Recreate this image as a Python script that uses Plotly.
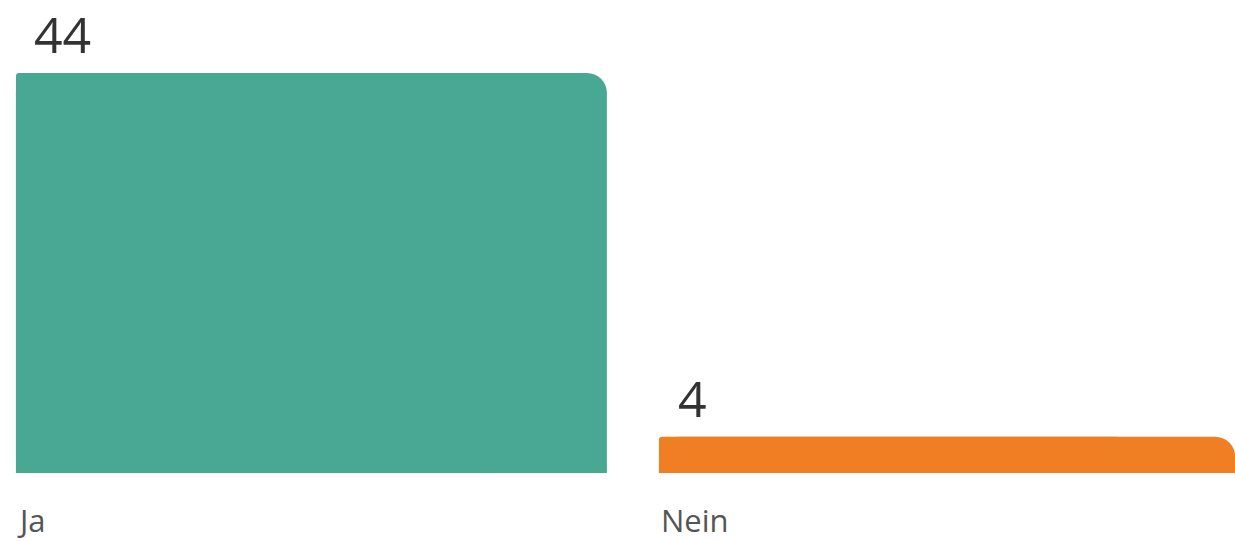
import plotly.graph_objects as go

categories = ["Ja", "Nein"]
values = [44, 4]
colors = ["#48A893", "#F07F23"]

bar_widths = [0.919, 0.896]
bar_off = -0.4596
fig = go.Figure()
# main bar with rounded top corners (right corner shows rounding)
fig.add_trace(go.Bar(x=categories, y=values, marker=dict(color=colors, line=dict(width=0)),
                     width=bar_widths, offset=bar_off, hoverinfo="skip", showlegend=False))
# overlay covering the left part to keep top-left corner nearly square
fig.add_trace(go.Bar(x=categories, y=values, marker=dict(color=colors, line=dict(width=0), cornerradius=3),
                     width=[w * 0.8 for w in bar_widths], offset=bar_off,
                     hoverinfo="skip", showlegend=False))

for c, v in zip(categories, values):
    fig.add_annotation(x=c, y=v, text=str(v), showarrow=False, xanchor="left", yanchor="bottom",
                       xshift=-278, yshift=4, borderpad=0,
                       font=dict(family="Open Sans", size=50, color="#333333"))
    fig.add_annotation(x=c, y=0, text=c, showarrow=False, xanchor="left", yanchor="top",
                       xshift=-296, yshift=-24, font=dict(family="Open Sans", size=31, color="#555555"))

fig.update_layout(
    width=1235, height=541,
    margin=dict(l=0, r=0, t=0, b=68),
    barmode="overlay", barcornerradius=20,
    plot_bgcolor="white", paper_bgcolor="white",
    xaxis=dict(type="category", range=[-0.4844, 1.4362], visible=False),
    yaxis=dict(range=[0, 52.03], visible=False),
)
fig.write_html("out.html", config={"displayModeBar": False},
               post_script="document.body.style.margin='0';")
